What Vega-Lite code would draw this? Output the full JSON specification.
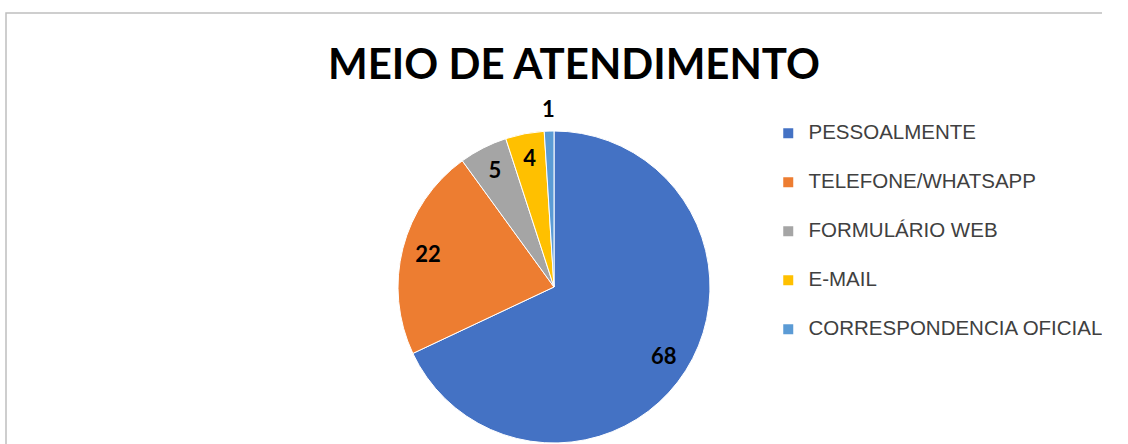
{
  "$schema": "https://vega.github.io/schema/vega-lite/v6.json",
  "width": 1096,
  "height": 548,
  "autosize": "none",
  "padding": {"left": 6, "top": 13, "right": 0, "bottom": 0},
  "background": "white",
  "view": {"stroke": "#BFBFBF", "strokeWidth": 1.5, "fill": "white", "strokeDash": [1096, 548, 2000, 0]},
  "title": {
    "text": "MEIO DE ATENDIMENTO",
    "font": "Lato",
    "fontSize": 42,
    "fontWeight": "bold",
    "color": "#000000",
    "anchor": "middle",
    "offset": -64,
    "baseline": "alphabetic",
    "dx": 20,
    "dy": 44
  },
  "data": {
    "values": [
      {"meio": "PESSOALMENTE", "valor": 68, "ordem": 1},
      {"meio": "TELEFONE/WHATSAPP", "valor": 22, "ordem": 2},
      {"meio": "FORMULÁRIO WEB", "valor": 5, "ordem": 3},
      {"meio": "E-MAIL", "valor": 4, "ordem": 4},
      {"meio": "CORRESPONDENCIA OFICIAL", "valor": 1, "ordem": 5}
    ]
  },
  "encoding": {
    "theta": {"field": "valor", "type": "quantitative", "stack": true},
    "order": {"field": "ordem", "type": "quantitative"}
  },
  "layer": [
    {
      "mark": {"type": "arc", "radius": 156, "stroke": "white", "strokeWidth": 1},
      "encoding": {
        "color": {
          "field": "meio",
          "type": "nominal",
          "sort": null,
          "scale": {
            "domain": ["PESSOALMENTE", "TELEFONE/WHATSAPP", "FORMULÁRIO WEB", "E-MAIL", "CORRESPONDENCIA OFICIAL"],
            "range": ["#4472C4", "#ED7D31", "#A5A5A5", "#FFC000", "#5B9BD5"]
          },
          "legend": {
            "title": null,
            "orient": "none",
            "legendX": 772,
            "legendY": 110,
            "padding": 0,
            "symbolType": "square",
            "symbolSize": 100,
            "symbolStrokeWidth": 0,
            "labelFont": "Liberation Sans",
            "labelFontSize": 20.5,
            "labelColor": "#404040",
            "labelOffset": 10,
            "rowPadding": 28,
            "labelLimit": 400
          }
        }
      }
    },
    {
      "mark": {"type": "text", "radius": 130, "font": "Lato", "fontSize": 22, "fontWeight": "bold", "color": "#000000"},
      "encoding": {
        "text": {"condition": {"test": "datum.valor > 1", "field": "valor", "type": "quantitative"}, "value": ""}
      }
    },
    {
      "mark": {"type": "text", "radius": 177, "font": "Lato", "fontSize": 22, "fontWeight": "bold", "color": "#000000"},
      "encoding": {
        "text": {"condition": {"test": "datum.valor == 1", "field": "valor", "type": "quantitative"}, "value": ""}
      }
    }
  ]
}
